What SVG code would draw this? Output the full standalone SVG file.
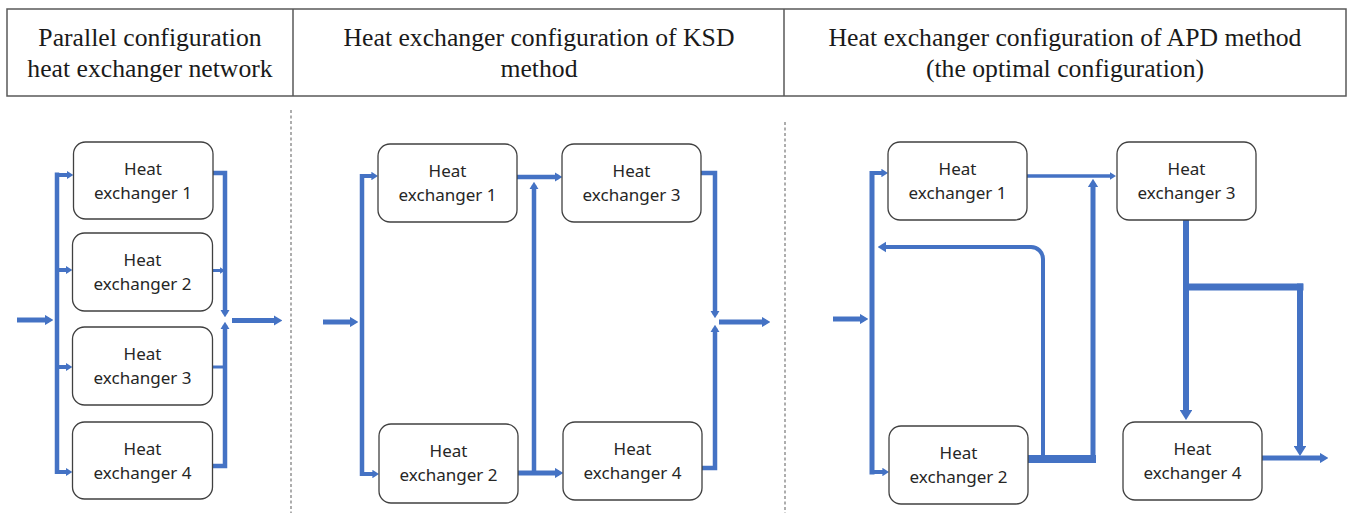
<svg xmlns="http://www.w3.org/2000/svg" width="1349" height="513" viewBox="0 0 1349 513">
<style>
.hdr{font-family:"Liberation Serif","Times New Roman",serif;font-size:25.7px;fill:#1a1a1a;text-anchor:middle}
.box{fill:#fff;stroke:#404040;stroke-width:1.3}
.lbl{font-family:"Noto Sans","Open Sans",sans-serif;font-size:17px;fill:#262626;text-anchor:middle}
.c{fill:none;stroke:#4472C4;stroke-linejoin:miter;stroke-linecap:butt}
.dash{stroke:#777;stroke-width:1.2;stroke-dasharray:3 2.5;fill:none}
</style>
<defs>
<marker id="ah" viewBox="0 0 8 10" refX="4" refY="5" markerWidth="1.7" markerHeight="2.1" markerUnits="strokeWidth" orient="auto" preserveAspectRatio="none">
<path d="M0,0 L8,5 L0,10 z" fill="#4472C4"/>
</marker>
<marker id="ahb" viewBox="0 0 8 10" refX="4" refY="5" markerWidth="2.2" markerHeight="2.8" markerUnits="strokeWidth" orient="auto" preserveAspectRatio="none">
<path d="M0,0 L8,5 L0,10 z" fill="#4472C4"/>
</marker>
</defs>
<rect width="1349" height="513" fill="#fff"/>
<g id="header">
<rect x="7" y="9" width="1339" height="87" fill="none" stroke="#595959" stroke-width="1.5"/>
<line x1="293" y1="9" x2="293" y2="96" stroke="#595959" stroke-width="1.5"/>
<line x1="784" y1="9" x2="784" y2="96" stroke="#595959" stroke-width="1.5"/>
<text class="hdr" x="150" y="46">Parallel configuration</text>
<text class="hdr" x="150" y="77">heat exchanger network</text>
<text class="hdr" x="539" y="46">Heat exchanger configuration of KSD</text>
<text class="hdr" x="539" y="77">method</text>
<text class="hdr" x="1065" y="46">Heat exchanger configuration of APD method</text>
<text class="hdr" x="1065" y="77">(the optimal configuration)</text>
</g>
<g id="dividers">
<line class="dash" x1="291" y1="110" x2="291" y2="513"/>
<line class="dash" x1="785" y1="122" x2="785" y2="513"/>
</g>
<g id="connectors">
<path class="c" stroke-width="5" d="M17,320 H49" marker-end="url(#ah)"/>
<path class="c" stroke-width="4.5" d="M57,172.5 V474"/>
<path class="c" stroke-width="4" d="M57,175 H70" marker-end="url(#ah)"/>
<path class="c" stroke-width="4" d="M57,270 H69" marker-end="url(#ah)"/>
<path class="c" stroke-width="4" d="M57,367 H69" marker-end="url(#ah)"/>
<path class="c" stroke-width="4" d="M57,472 H69" marker-end="url(#ah)"/>
<path class="c" stroke-width="4.5" d="M213,173 H225 V313.5" marker-end="url(#ah)"/>
<path class="c" stroke-width="3" d="M212,270.5 H222.6" marker-end="url(#ah)"/>
<path class="c" stroke-width="3" d="M212,367 H225"/>
<path class="c" stroke-width="4.5" d="M212,466 H225 V325.6" marker-end="url(#ah)"/>
<path class="c" stroke-width="5" d="M232,320.5 H278" marker-end="url(#ah)"/>
<path class="c" stroke-width="5" d="M323,322 H354" marker-end="url(#ah)"/>
<path class="c" stroke-width="4.5" d="M362,174 V476"/>
<path class="c" stroke-width="4" d="M362,176 H374.8" marker-end="url(#ah)"/>
<path class="c" stroke-width="4" d="M362,474 H375.8" marker-end="url(#ah)"/>
<path class="c" stroke-width="4.5" d="M517,177 H558.4" marker-end="url(#ah)"/>
<path class="c" stroke-width="5" d="M518,473 H559" marker-end="url(#ah)"/>
<path class="c" stroke-width="4.5" d="M534,473 V185.6" marker-end="url(#ah)"/>
<path class="c" stroke-width="4.5" d="M701,173 H715 V314.4" marker-end="url(#ah)"/>
<path class="c" stroke-width="4.5" d="M702,468 H715 V328.6" marker-end="url(#ah)"/>
<path class="c" stroke-width="5" d="M719,322 H766" marker-end="url(#ah)"/>
<path class="c" stroke-width="5" d="M833,319 H864" marker-end="url(#ah)"/>
<path class="c" stroke-width="5" d="M872,171 V474.5"/>
<path class="c" stroke-width="4" d="M872,173 H884.8" marker-end="url(#ah)"/>
<path class="c" stroke-width="4" d="M872,472 H885.8" marker-end="url(#ah)"/>
<path class="c" stroke-width="3.5" d="M1027,176 H1113" marker-end="url(#ah)"/>
<path class="c" stroke-width="4" d="M1043,459 V259 A12,12 0 0 0 1031,247 H882" marker-end="url(#ahb)"/>
<path class="c" stroke-width="8" d="M1028,459 H1096"/>
<path class="c" stroke-width="5" d="M1093,463 V183" marker-end="url(#ah)"/>
<path class="c" stroke-width="6" d="M1186,220 V415" marker-end="url(#ah)"/>
<path class="c" stroke-width="7" d="M1186,287 H1303.5"/>
<path class="c" stroke-width="6" d="M1300,283.5 V451" marker-end="url(#ah)"/>
<path class="c" stroke-width="5" d="M1262,458 H1324" marker-end="url(#ah)"/>
</g>
<g id="p1-hx1"><rect class="box" x="73.5" y="142" width="139.5" height="77" rx="12"/><text class="lbl" x="143" y="175">Heat</text><text class="lbl" x="143" y="199">exchanger 1</text></g>
<g id="p1-hx2"><rect class="box" x="72.5" y="233" width="140" height="78" rx="12"/><text class="lbl" x="142.5" y="266">Heat</text><text class="lbl" x="142.5" y="290">exchanger 2</text></g>
<g id="p1-hx3"><rect class="box" x="72.5" y="327" width="140" height="78" rx="12"/><text class="lbl" x="142.5" y="360">Heat</text><text class="lbl" x="142.5" y="384">exchanger 3</text></g>
<g id="p1-hx4"><rect class="box" x="72.5" y="422" width="140" height="77" rx="12"/><text class="lbl" x="142.5" y="455">Heat</text><text class="lbl" x="142.5" y="479">exchanger 4</text></g>
<g id="p2-hx1"><rect class="box" x="378" y="144" width="139" height="78" rx="12"/><text class="lbl" x="447.5" y="177">Heat</text><text class="lbl" x="447.5" y="201">exchanger 1</text></g>
<g id="p2-hx3"><rect class="box" x="562" y="144" width="139" height="78" rx="12"/><text class="lbl" x="631.5" y="177">Heat</text><text class="lbl" x="631.5" y="201">exchanger 3</text></g>
<g id="p2-hx2"><rect class="box" x="379" y="424" width="139" height="79" rx="12"/><text class="lbl" x="448.5" y="457">Heat</text><text class="lbl" x="448.5" y="481">exchanger 2</text></g>
<g id="p2-hx4"><rect class="box" x="563" y="422" width="139" height="78" rx="12"/><text class="lbl" x="632.5" y="455">Heat</text><text class="lbl" x="632.5" y="479">exchanger 4</text></g>
<g id="p3-hx1"><rect class="box" x="888" y="142" width="139" height="78" rx="12"/><text class="lbl" x="957.5" y="175">Heat</text><text class="lbl" x="957.5" y="199">exchanger 1</text></g>
<g id="p3-hx3"><rect class="box" x="1117" y="142" width="139" height="78" rx="12"/><text class="lbl" x="1186.5" y="175">Heat</text><text class="lbl" x="1186.5" y="199">exchanger 3</text></g>
<g id="p3-hx2"><rect class="box" x="889" y="426" width="139" height="78" rx="12"/><text class="lbl" x="958.5" y="459">Heat</text><text class="lbl" x="958.5" y="483">exchanger 2</text></g>
<g id="p3-hx4"><rect class="box" x="1123" y="422" width="139" height="78" rx="12"/><text class="lbl" x="1192.5" y="455">Heat</text><text class="lbl" x="1192.5" y="479">exchanger 4</text></g>
</svg>
